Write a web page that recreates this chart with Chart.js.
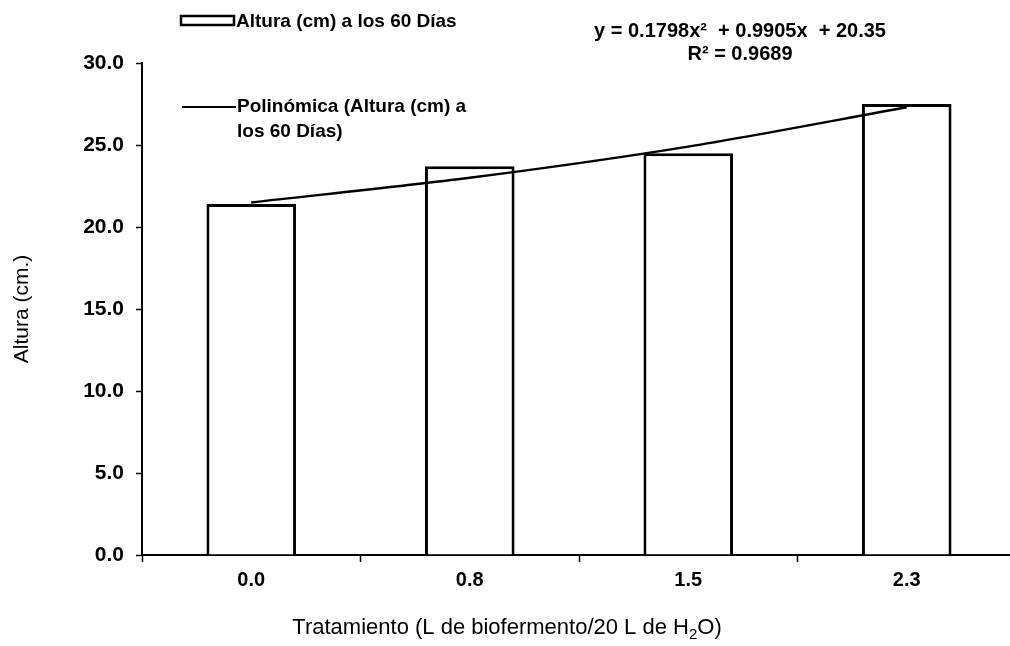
<!DOCTYPE html>
<html>
<head>
<meta charset="utf-8">
<script src="https://cdn.jsdelivr.net/npm/chart.js@4.4.1/dist/chart.umd.min.js"></script>
<style>
  html, body { margin: 0; padding: 0; background: #fff; overflow: hidden; }
  canvas { display: block; }
</style>
</head>
<body>
<canvas id="altura-60-dias" width="1018" height="646"></canvas>
<script>
// Altura (cm) a los 60 días por tratamiento
const tratamientos = ["0.0", "0.8", "1.5", "2.3"];
const altura60 = [21.4, 23.7, 24.5, 27.5];
const tendencia = [21.5, 23.0, 24.9, 27.3];
const ecuacion = ["y = 0.1798x\u00b2  + 0.9905x  + 20.35", "R\u00b2 = 0.9689"];
const leyenda = ["Altura (cm) a los 60 Días", "Polinómica (Altura (cm) a", "los 60 Días)"];
// título del eje x en tres trozos para poner el 2 como subíndice
const tituloX = ["Tratamiento (L de biofermento/20 L de H", "2", "O)"];
const tituloY = "Altura (cm.)";
const ejeY = { min: 0, max: 30, paso: 5 };

const fuente = "'Liberation Sans', Arial, sans-serif";

// leyenda, ecuación y título del eje x dibujados a mano
const textosManual = {
    id: "textosManual",
    afterDraw(chart) {
        const ctx = chart.ctx;
        ctx.save();
        ctx.textBaseline = "middle";

        // cuadro de las barras
        ctx.fillStyle = "#fff";
        ctx.strokeStyle = "#000";
        ctx.lineWidth = 2.5;
        ctx.fillRect(181, 16, 53, 9);
        ctx.strokeRect(181, 16, 53, 9);
        ctx.fillStyle = "#000";
        ctx.textAlign = "left";
        ctx.font = "bold 19px " + fuente;
        ctx.fillText(leyenda[0], 236, 22);

        // trazo de la tendencia
        ctx.lineWidth = 2;
        ctx.beginPath();
        ctx.moveTo(182, 107);
        ctx.lineTo(236, 107);
        ctx.stroke();
        ctx.fillText(leyenda[1], 237, 107);
        ctx.fillText(leyenda[2], 237, 132);

        // ecuación de la tendencia
        ctx.font = "bold 20px " + fuente;
        ctx.textAlign = "center";
        ctx.fillText(ecuacion[0], 740, 31);
        ctx.fillText(ecuacion[1], 740, 54);

        // título del eje x con H2O
        const grande = "22px " + fuente;
        const chico = "15px " + fuente;
        ctx.font = grande;
        const w1 = ctx.measureText(tituloX[0]).width;
        const w3 = ctx.measureText(tituloX[2]).width;
        ctx.font = chico;
        const w2 = ctx.measureText(tituloX[1]).width;
        let x = 507 - (w1 + w2 + w3) / 2;
        const y = 628;
        ctx.textAlign = "left";
        ctx.font = grande;
        ctx.fillText(tituloX[0], x, y);
        x += w1;
        ctx.font = chico;
        ctx.fillText(tituloX[1], x, y + 7);
        x += w2;
        ctx.font = grande;
        ctx.fillText(tituloX[2], x, y);
        ctx.restore();
    }
};

const datos = {
    labels: tratamientos,
    datasets: [
        {
            type: "line",
            label: leyenda[1] + " " + leyenda[2],
            data: tendencia,
            borderColor: "#000",
            borderWidth: 2.5,
            pointRadius: 0,
            tension: 0.3,
            fill: false,
            order: 0
        },
        {
            type: "bar",
            label: leyenda[0],
            data: altura60,
            backgroundColor: "#fff",
            borderColor: "#000",
            borderWidth: 3,
            categoryPercentage: 1,
            barPercentage: 0.41,
            order: 1
        }
    ]
};

const config = {
    type: "bar",
    data: datos,
    options: {
        responsive: false,
        animation: false,
        devicePixelRatio: 1,
        layout: { padding: { top: 63, right: 2, left: 0, bottom: 0 } },
        plugins: {
            legend: { display: false },
            tooltip: { enabled: false }
        },
        scales: {
            x: {
                afterFit: (scale) => { scale.height = 91; },
                grid: {
                    offset: true,
                    drawOnChartArea: false,
                    drawTicks: true,
                    tickLength: 7,
                    tickWidth: 1.5,
                    tickColor: "#000"
                },
                border: { color: "#000", width: 2 },
                ticks: {
                    color: "#000",
                    padding: 6,
                    font: { family: fuente, size: 20, weight: "bold" }
                }
            },
            y: {
                min: ejeY.min,
                max: ejeY.max,
                afterFit: (scale) => { scale.width = 142; },
                grid: {
                    drawOnChartArea: false,
                    drawTicks: true,
                    tickLength: 6,
                    tickWidth: 1.5,
                    tickColor: "#000"
                },
                border: { color: "#000", width: 2 },
                ticks: {
                    stepSize: ejeY.paso,
                    color: "#000",
                    padding: 12,
                    font: { family: fuente, size: 21, weight: "bold" },
                    callback: (v) => Number(v).toFixed(1)
                },
                title: {
                    display: true,
                    text: tituloY,
                    color: "#000",
                    font: { family: fuente, size: 21 },
                    padding: { top: 10, bottom: 0 }
                }
            }
        }
    },
    plugins: [textosManual]
};

var grafico = new Chart(document.getElementById("altura-60-dias"), config);
</script>
</body>
</html>
